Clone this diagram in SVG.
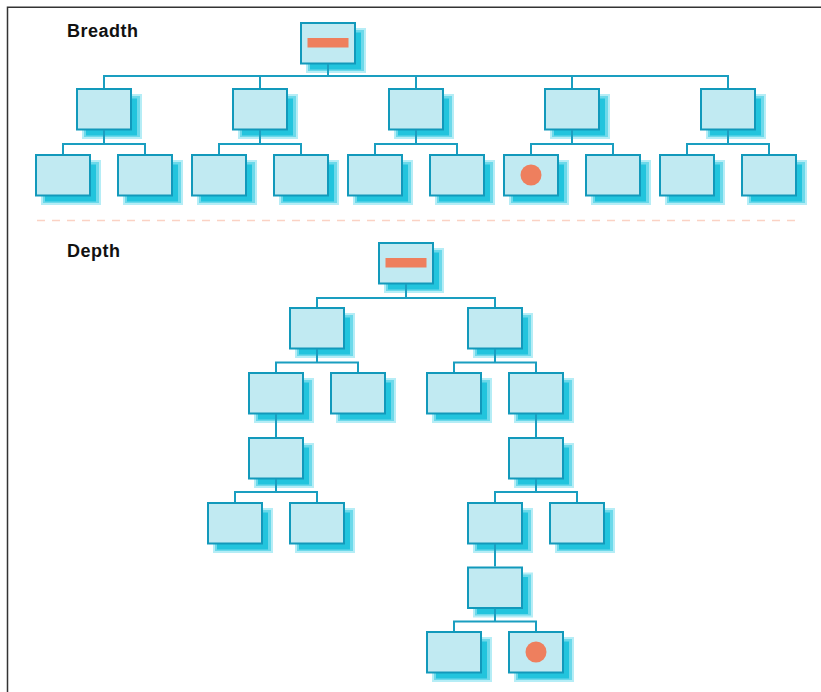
<svg xmlns="http://www.w3.org/2000/svg" xmlns:xlink="http://www.w3.org/1999/xlink" width="821" height="692" viewBox="0 0 821 692">
  <style>
    .frame{fill:none;stroke:#333;stroke-width:1.5}
    .sep{fill:none;stroke:#fbd2c4;stroke-width:1.5;stroke-dasharray:8 7}
    .title{font-family:"Liberation Sans",Arial,sans-serif;font-weight:bold;font-size:18px;letter-spacing:0.5px;fill:#111}
    .box{fill:#c1eaf2;stroke:#1299bb;stroke-width:2}
    .sh1{fill:#b5edf6}
    .sh2{fill:#6cd9ea}
    .sh3{fill:#22c4dd}
    .mark{fill:#ee7f5e}
    .conn{fill:none;stroke:#1a9ec0;stroke-width:2}
  </style>
  <defs>
    <g id="node-shape">
      <rect class="sh1" x="6" y="6" width="60" height="45"/>
      <rect class="sh2" x="8" y="8" width="56" height="41"/>
      <rect class="sh3" x="10" y="10.5" width="51" height="37"/>
      <rect class="box" x="1" y="1" width="54" height="40.5"/>
    </g>
  </defs>
  <rect width="821" height="692" fill="#fff"/>
  <path class="frame" d="M7.5 692V7.2H821"/>
  <line class="sep" x1="37" y1="220.5" x2="800" y2="220.5"/>
  <text class="title" x="67" y="37">Breadth</text>
  <text class="title" x="67" y="257">Depth</text>

  <g id="breadth-nodes">
    <g id="b-root" transform="translate(300,22)"><use xlink:href="#node-shape"/><rect class="mark" x="7.5" y="16" width="41" height="9.5"/></g>
    <g id="b-1" transform="translate(76,88)"><use xlink:href="#node-shape"/></g>
    <g id="b-2" transform="translate(232,88)"><use xlink:href="#node-shape"/></g>
    <g id="b-3" transform="translate(388,88)"><use xlink:href="#node-shape"/></g>
    <g id="b-4" transform="translate(544,88)"><use xlink:href="#node-shape"/></g>
    <g id="b-5" transform="translate(700,88)"><use xlink:href="#node-shape"/></g>
    <g id="b-1a" transform="translate(35,154)"><use xlink:href="#node-shape"/></g>
    <g id="b-1b" transform="translate(117,154)"><use xlink:href="#node-shape"/></g>
    <g id="b-2a" transform="translate(191,154)"><use xlink:href="#node-shape"/></g>
    <g id="b-2b" transform="translate(273,154)"><use xlink:href="#node-shape"/></g>
    <g id="b-3a" transform="translate(347,154)"><use xlink:href="#node-shape"/></g>
    <g id="b-3b" transform="translate(429,154)"><use xlink:href="#node-shape"/></g>
    <g id="b-4a" transform="translate(503,154)"><use xlink:href="#node-shape"/><circle class="mark" cx="28" cy="21" r="10.5"/></g>
    <g id="b-4b" transform="translate(585,154)"><use xlink:href="#node-shape"/></g>
    <g id="b-5a" transform="translate(659,154)"><use xlink:href="#node-shape"/></g>
    <g id="b-5b" transform="translate(741,154)"><use xlink:href="#node-shape"/></g>
  </g>

  <g id="depth-nodes">
    <g id="d-root" transform="translate(378,242)"><use xlink:href="#node-shape"/><rect class="mark" x="7.5" y="16" width="41" height="9.5"/></g>
    <g id="d-1" transform="translate(289,307)"><use xlink:href="#node-shape"/></g>
    <g id="d-2" transform="translate(467,307)"><use xlink:href="#node-shape"/></g>
    <g id="d-1a" transform="translate(248,372)"><use xlink:href="#node-shape"/></g>
    <g id="d-1b" transform="translate(330,372)"><use xlink:href="#node-shape"/></g>
    <g id="d-2a" transform="translate(426,372)"><use xlink:href="#node-shape"/></g>
    <g id="d-2b" transform="translate(508,372)"><use xlink:href="#node-shape"/></g>
    <g id="d-1a1" transform="translate(248,437)"><use xlink:href="#node-shape"/></g>
    <g id="d-2b1" transform="translate(508,437)"><use xlink:href="#node-shape"/></g>
    <g id="d-1a1a" transform="translate(207,502)"><use xlink:href="#node-shape"/></g>
    <g id="d-1a1b" transform="translate(289,502)"><use xlink:href="#node-shape"/></g>
    <g id="d-2b1a" transform="translate(467,502)"><use xlink:href="#node-shape"/></g>
    <g id="d-2b1b" transform="translate(549,502)"><use xlink:href="#node-shape"/></g>
    <g id="d-2b1a1" transform="translate(467,566.5)"><use xlink:href="#node-shape"/></g>
    <g id="d-leaf-a" transform="translate(426,631)"><use xlink:href="#node-shape"/></g>
    <g id="d-leaf-b" transform="translate(508,631)"><use xlink:href="#node-shape"/><circle class="mark" cx="28" cy="21" r="10.5"/></g>
  </g>

  <g id="connectors" class="conn">
    <path d="M328 64V76 M104 88V76H728V88 M260 76V88 M416 76V88 M572 76V88"/>
    <path d="M104 130V144 M63 154V144H145V154"/>
    <path d="M260 130V144 M219 154V144H301V154"/>
    <path d="M416 130V144 M375 154V144H457V154"/>
    <path d="M572 130V144 M531 154V144H613V154"/>
    <path d="M728 130V144 M687 154V144H769V154"/>
    <path d="M406 284V298 M317 307V298H495V307"/>
    <path d="M317 349V362.5 M276 372V362.5H358V372"/>
    <path d="M495 349V362.5 M454 372V362.5H536V372"/>
    <path d="M276 414V437"/>
    <path d="M536 414V437"/>
    <path d="M276 479V492 M235 502V492H317V502"/>
    <path d="M536 479V492 M495 502V492H577V502"/>
    <path d="M495 544V566.5"/>
    <path d="M495 608.5V621.5 M454 631V621.5H536V631"/>
  </g>
</svg>
